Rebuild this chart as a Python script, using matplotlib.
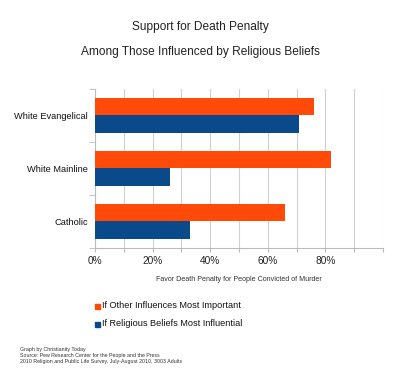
import matplotlib
matplotlib.use("Agg")
import matplotlib.pyplot as plt
import numpy as np

plt.rcParams['font.family'] = ['Liberation Sans', 'DejaVu Sans']

categories = ["White Evangelical", "White Mainline", "Catholic"]
other_influences = [76, 82, 66]
religious_beliefs = [71, 26, 33]
series_names = ["If Other Influences Most Important", "If Religious Beliefs Most Influential"]
xticks = [0, 20, 40, 60, 80]
xtick_labels = ["0%", "20%", "40%", "60%", "80%"]

orange = "#FF4A0A"
blue = "#0B4A8A"

fig = plt.figure(figsize=(4, 3.75), dpi=100)
ax = fig.add_axes([0.2375, 0.339, 0.72, 0.424])

n = len(categories)
ypos = np.arange(n)[::-1].astype(float)  # top category first
h = 0.33
ax.barh(ypos + h / 2, other_influences, height=h, color=orange, zorder=3)
ax.barh(ypos - h / 2, religious_beliefs, height=h, color=blue, zorder=3)

ax.set_xlim(0, 100)
ax.set_ylim(-0.5, n - 0.5)
ax.set_xticks(np.arange(0, 101, 10), minor=False)
ax.set_xticklabels([xtick_labels[xticks.index(v)] if v in xticks else "" for v in range(0, 101, 10)],
                   fontsize=7.3, color="#222222")
ax.xaxis.grid(True, color="#D0D0D0", linewidth=0.8, zorder=0)
ax.tick_params(axis='x', length=3, color="#BBBBBB", pad=3)

ax.set_yticks(ypos)
ax.set_yticklabels(categories, fontsize=6.7, color="#111111")
ax.tick_params(axis='y', length=0, pad=5)
ax.set_yticks(np.arange(-0.5, n, 1.0), minor=True)
ax.tick_params(axis='y', which='minor', length=4, color="#BBBBBB")

for s in ["top", "right"]:
    ax.spines[s].set_visible(False)
ax.spines["left"].set_color("#BBBBBB")
ax.spines["bottom"].set_color("#BBBBBB")

ax.set_xlabel("Favor Death Penalty for People Convicted of Murder", fontsize=5.1, color="#333333", labelpad=7)

fig.text(0.5, 1 - 27 / 375, "Support for Death Penalty", ha="center", va="center", fontsize=8.6, color="#222222")
fig.text(0.5, 1 - 52 / 375, "Among Those Influenced by Religious Beliefs", ha="center", va="center", fontsize=8.6, color="#222222")

# legend
for i, (name, col) in enumerate(zip(series_names, [orange, blue])):
    y = 1 - (306 + i * 18) / 375
    fig.patches.append(plt.Rectangle((95 / 400, y - 2.5 / 375), 5 / 400, 5 / 375,
                                     transform=fig.transFigure, color=col, figure=fig))
    fig.text(102 / 400, y, name, ha="left", va="center", fontsize=6.6, color="#111111")

footer = ["Graph by Christianity Today",
          "Source: Pew Research Center for the People and the Press",
          "2010 Religion and Public Life Survey, July-August 2010, 3003 Adults"]
for i, line in enumerate(footer):
    fig.text(20 / 400, 1 - (349 + i * 6.5) / 375, line, ha="left", va="center", fontsize=3.8, color="#333333")

fig.savefig("out.png", dpi=100, facecolor="white")
